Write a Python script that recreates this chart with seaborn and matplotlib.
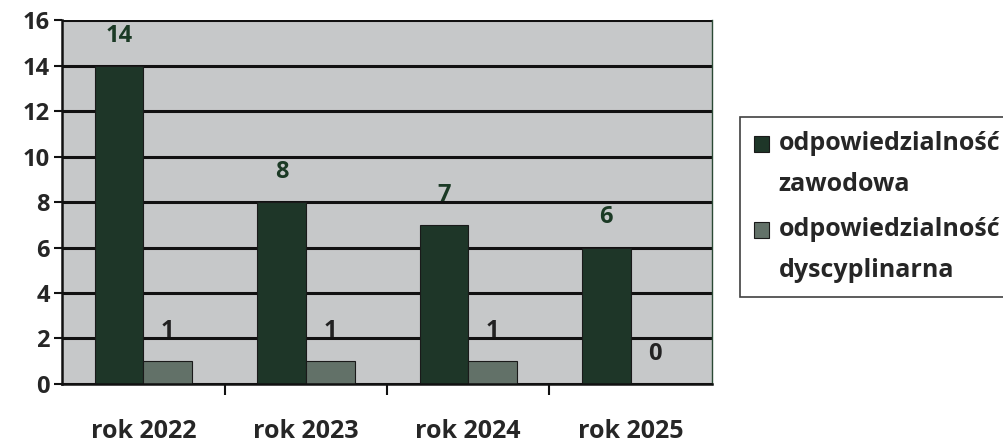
import matplotlib
matplotlib.use("Agg")
import matplotlib.pyplot as plt
from matplotlib.legend_handler import HandlerPatch
from matplotlib.patches import Rectangle
from matplotlib.ticker import FixedLocator
import pandas as pd
import seaborn as sns

# ---- data ----
years = ["rok 2022", "rok 2023", "rok 2024", "rok 2025"]
zawodowa = [14, 8, 7, 6]
dyscyplinarna = [1, 1, 1, 0]
series_names = ["odpowiedzialność\nzawodowa", "odpowiedzialność\ndyscyplinarna"]
y_ticks = [0, 2, 4, 6, 8, 10, 12, 14, 16]

df = pd.DataFrame({
    "rok": years * 2,
    "liczba": zawodowa + dyscyplinarna,
    "typ": [series_names[0]] * len(years) + [series_names[1]] * len(years),
})

sns.set_style("white")
plt.rcParams["font.family"] = ["Open Sans", "DejaVu Sans"]
plt.rcParams["font.weight"] = "bold"

fig = plt.figure(figsize=(10.04, 4.48), dpi=100)
ax = fig.add_axes([0.062, 0.143, 0.647, 0.812])
ax.set_facecolor("#c6c8c9")

sns.barplot(data=df, x="rok", y="liczba", hue="typ", ax=ax, width=0.6,
            palette=["#1e3628", "#627168"], edgecolor="#1a1a1a", linewidth=0.8,
            saturation=1, legend=True)

# bar value labels
label_colors = ["#1b3a25", "#222222"]
for cont, col in zip(ax.containers, label_colors):
    ax.bar_label(cont, padding=13, fontsize=17, fontweight="bold", color=col)

# ---- axes ----
ax.set_ylim(0, 16)
ax.set_xlim(-0.5, 3.5)
ax.set_yticks(y_ticks)
ax.yaxis.grid(True, color="#111111", linewidth=2.2)
ax.set_axisbelow(True)
ax.tick_params(axis="y", labelsize=17, length=6, width=1.5, direction="out",
               left=True, color="#111111", pad=3)
ax.tick_params(axis="x", which="major", length=0, labelsize=18, pad=25)
ax.xaxis.set_minor_locator(FixedLocator([0.5, 1.5, 2.5]))
ax.tick_params(axis="x", which="minor", length=8, width=1.5, color="#111111",
               direction="out", bottom=True)
for lab in ax.get_xticklabels() + ax.get_yticklabels():
    lab.set_fontweight("bold")
ax.set_xlabel("")
ax.set_ylabel("")

for s in ["left", "bottom"]:
    ax.spines[s].set_color("#111111")
    ax.spines[s].set_linewidth(1.8)
ax.spines["top"].set_visible(False)
ax.spines["right"].set_color("#2b4a35")
ax.spines["right"].set_linewidth(1.0)


# legend squares sit next to the first line of each label
def top_square(legend, orig_handle, xdescent, ydescent, width, height, fontsize):
    return Rectangle((-xdescent, -ydescent + 15), width, height)


# ---- legend ----
handles, labels = ax.get_legend_handles_labels()
ax.legend_.remove()
leg = fig.legend(handles, labels, loc="upper left", bbox_to_anchor=(0.737, 0.738),
                 frameon=True, fancybox=False, edgecolor="#111111",
                 fontsize=18, handlelength=0.6, handleheight=0.6,
                 handletextpad=0.4, labelspacing=0.8, borderpad=0.55,
                 borderaxespad=0,
                 handler_map={h: HandlerPatch(patch_func=top_square) for h in handles})
leg.get_frame().set_linewidth(1.2)
for t in leg.get_texts():
    t.set_fontweight("bold")
    t.set_linespacing(1.85)

fig.savefig("out.png", dpi=100)
